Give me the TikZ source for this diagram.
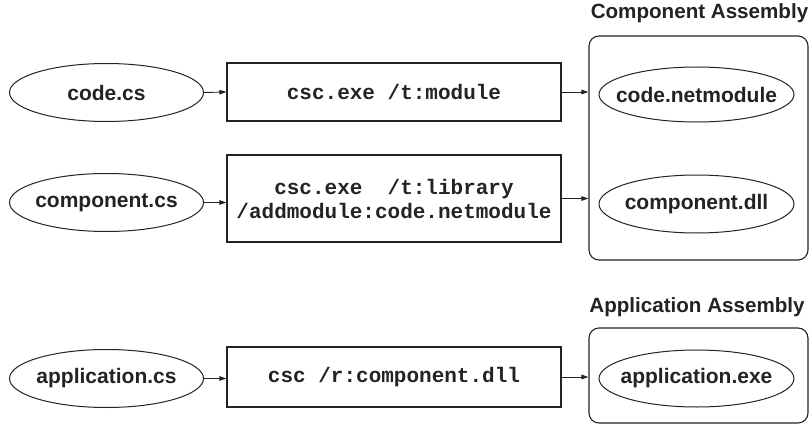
\documentclass[tikz,border=0pt]{standalone}
\usepackage{fontspec}
\setmainfont{Liberation Sans}
\newfontfamily\codefont{Liberation Mono}
\usetikzlibrary{shapes.geometric,arrows.meta}
\definecolor{ink}{RGB}{35,35,35}
\tikzset{
  % ellipse size is fixed by the minimum sizes; the label is centred on it
  file/.style={ellipse, draw=ink, line width=1pt, inner sep=0pt,
    minimum width=194pt, minimum height=58pt,
    font=\fontsize{21}{24}\selectfont\bfseries, text=ink,
    execute at begin node={\hbox to 0pt\bgroup\hss},
    execute at end node={\hss\egroup}},
  cmd/.style={rectangle, draw=ink, line width=1.1pt, inner sep=0pt,
    minimum width=334pt, minimum height=58pt, align=center,
    font=\codefont\fontsize{21}{24}\selectfont\bfseries, text=ink},
  assembly/.style={rectangle, rounded corners=10pt, draw=ink, line width=1.1pt},
  caption/.style={font=\fontsize{20.6}{24}\selectfont\bfseries, text=ink, inner sep=0pt},
  flow/.style={draw=ink, line width=0.9pt, -{Triangle[length=7pt,width=4.5pt]}}
}
\begin{document}
\begin{tikzpicture}[x=1pt,y=-1pt]
  \useasboundingbox (0,0) rectangle (811,425);

  % assembly containers and their captions
  \node[assembly, minimum width=219pt, minimum height=224pt] (compasm) at (698.5,148) {};
  \node[assembly, minimum width=219pt, minimum height=95pt] (appasm) at (698.5,375.5) {};
  \node[caption] (comptitle) at (699.5,13) {Component Assembly};
  \node[caption] (apptitle) at (697,307) {Application Assembly};

  % row 1: module compilation
  \node[file] (codecs) at (106.5,92.5) {code.cs};
  \node[cmd] (mod) at (394,92) {csc.exe /t:module};
  \node[file, minimum width=195pt, minimum height=55pt] (netmod) at (696.5,94.5) {code.netmodule};

  % row 2: library compilation
  \node[file] (compcs) at (106.5,202.5) {component.cs};
  \node[cmd, minimum height=87pt] (lib) at (394,198.5)
    {csc.exe\ \ /t:library\\/addmodule:code.netmodule};
  \node[file, minimum width=195pt] (compdll) at (696.5,204) {component.dll};

  % row 3: application compilation
  \node[file] (appcs) at (106.5,378.5) {application.cs};
  \node[cmd, minimum height=60pt] (app) at (394,377) {csc /r:component.dll};
  \node[file, minimum width=195pt, minimum height=57pt] (appexe) at (696.5,378.5) {application.exe};

  % connectors
  \draw[flow] (codecs.east) -- (mod.west);
  \draw[flow] (mod.east) -- (mod.east -| compasm.west);
  \draw[flow] (compcs.east) -- (compcs.east -| lib.west);
  \draw[flow] (lib.east) -- (lib.east -| compasm.west);
  \draw[flow] (appcs.east) -- (appcs.east -| app.west);
  \draw[flow] (app.east) -- (app.east -| appasm.west);
\end{tikzpicture}
\end{document}
